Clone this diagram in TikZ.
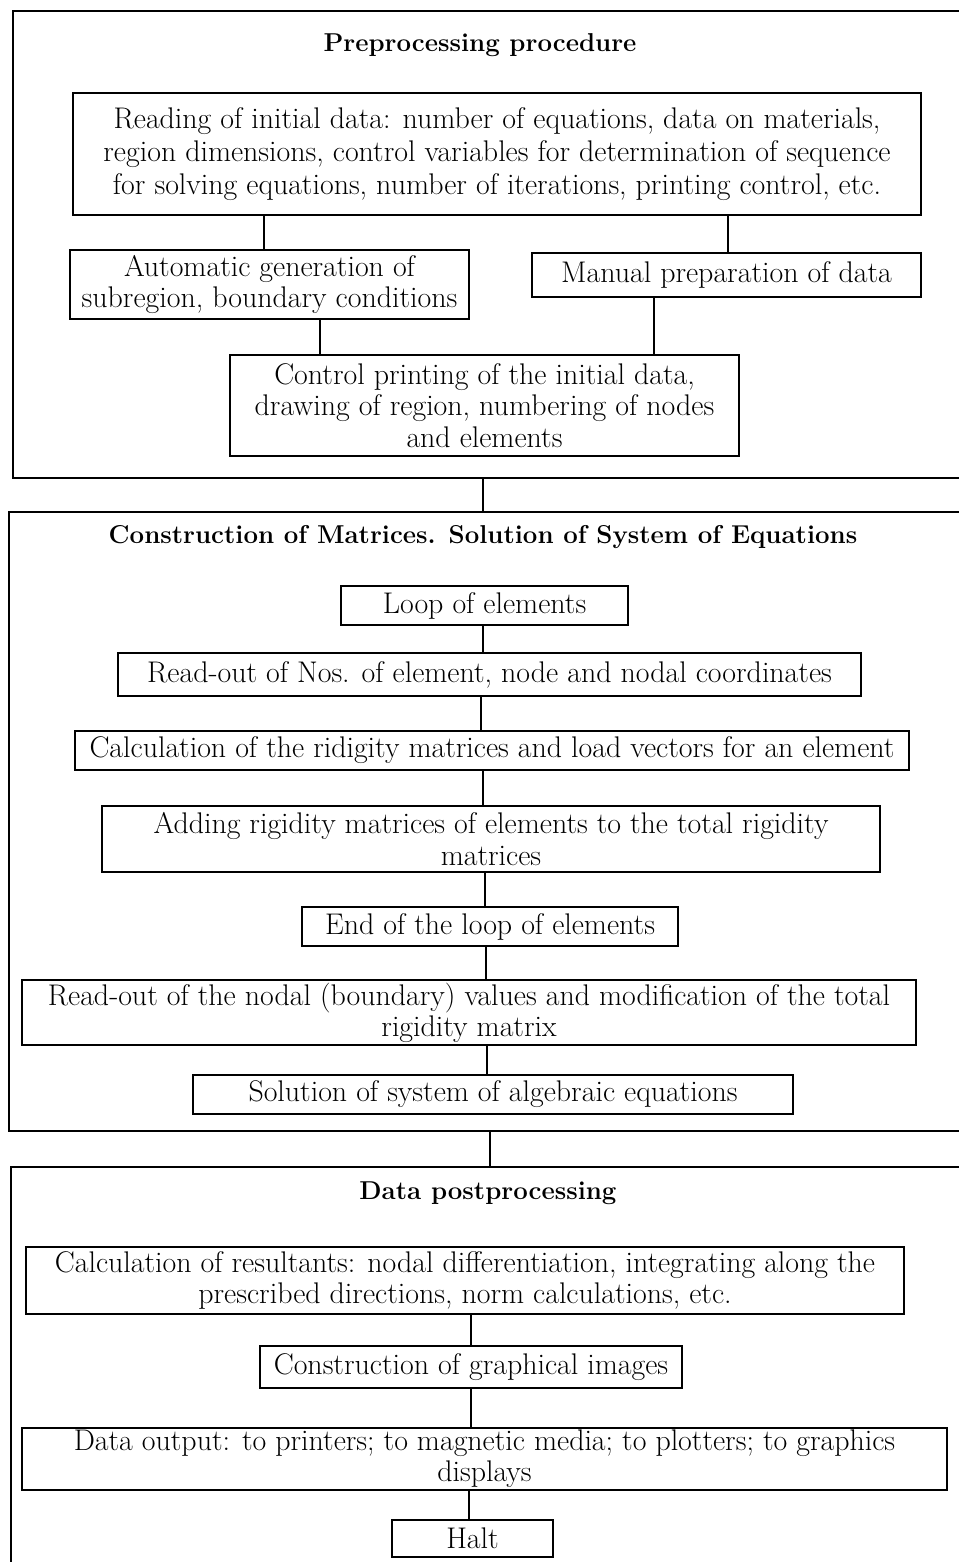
\documentclass[tikz,border=0pt]{standalone}
\usepackage{fontspec}
\usepackage{tikz}
\usetikzlibrary{positioning}
\tikzset{
  frm/.style={rectangle,draw=black,line width=1pt,anchor=north west,inner sep=0pt},
  bx/.style={rectangle,draw=black,line width=.9pt,fill=white,align=center,inner sep=1pt,
    font=\fontsize{17}{17.8}\selectfont},
  ttl/.style={font=\fontsize{14.7}{17}\selectfont\bfseries},
  lnk/.style={draw=black,line width=.6pt},
}
\begin{document}
\begin{tikzpicture}
\useasboundingbox (0,0) rectangle (19.18,-31.24);
\clip (0,0) rectangle (19.18,-31.24);
% the three stages; their right sides (and the foot of the last) run off the page
\node[frm,minimum width=19.5cm,minimum height=9.34cm] (pre) at (0.24,-0.20) {};
\node[frm,minimum width=19.5cm,minimum height=12.38cm] (mat) at (0.16,-10.22) {};
\node[frm,minimum width=19.5cm,minimum height=8.6cm] (post) at (0.20,-23.32) {};
\node[ttl] (t1) at (9.60,-0.90) {Preprocessing procedure};
\node[ttl] (t2) at (9.66,-10.74) {Construction of Matrices. Solution of System of Equations};
\node[ttl] (t3) at (9.76,-23.86) {Data postprocessing};
% preprocessing
\node[bx,font=\fontsize{17}{18.6}\selectfont,minimum width=16.96cm,minimum height=2.44cm] (read) at (9.94,-3.08)
  {Reading of initial data: number of equations, data on materials,\\
   region dimensions, control variables for determination of sequence\\
   for solving equations, number of iterations, printing control, etc.};
\node[bx,minimum width=7.98cm,minimum height=1.38cm] (auto) at (5.39,-5.69)
  {Automatic generation of\\ subregion, boundary conditions};
\node[bx,minimum width=7.78cm,minimum height=0.88cm] (man) at (14.53,-5.50)
  {Manual preparation of data};
\node[bx,minimum width=10.18cm,minimum height=2.02cm] (ctl) at (9.69,-8.11)
  {Control printing of the initial data,\\ drawing of region, numbering of nodes\\ and elements};
% matrices and the solution
\node[bx,minimum width=5.74cm,minimum height=0.78cm] (loop) at (9.69,-12.11)
  {Loop of elements};
\node[bx,minimum width=14.86cm,minimum height=0.86cm] (nos) at (9.79,-13.49)
  {Read-out of Nos. of element, node and nodal coordinates};
\node[bx,minimum width=16.68cm,minimum height=0.78cm] (rig) at (9.84,-15.01)
  {Calculation of the ridigity matrices and load vectors for an element};
\node[bx,minimum width=15.56cm,minimum height=1.32cm] (add) at (9.82,-16.78)
  {Adding rigidity matrices of elements to the total rigidity\\ matrices};
\node[bx,minimum width=7.52cm,minimum height=0.78cm] (lend) at (9.80,-18.53)
  {End of the loop of elements};
\node[bx,minimum width=17.88cm,minimum height=1.30cm] (bnd) at (9.38,-20.25)
  {Read-out of the nodal (boundary) values and modification of the total\\ rigidity matrix};
\node[bx,minimum width=12.00cm,minimum height=0.78cm] (sol) at (9.86,-21.89)
  {Solution of system of algebraic equations};
% postprocessing
\node[bx,minimum width=17.56cm,minimum height=1.34cm] (res) at (9.30,-25.61)
  {Calculation of resultants: nodal differentiation, integrating along the\\
   prescribed directions, norm calculations, etc.};
\node[bx,minimum width=8.44cm,minimum height=0.84cm] (img) at (9.42,-27.34)
  {Construction of graphical images};
\node[bx,minimum width=18.50cm,minimum height=1.24cm] (out) at (9.69,-29.18)
  {Data output: to printers; to magnetic media; to plotters; to graphics\\ displays};
\node[bx,minimum width=3.22cm,minimum height=0.74cm] (halt) at (9.45,-30.77)
  {Halt};
% plain vertical links, each at its own x
\foreach \a/\b/\x in {read/auto/5.28, read/man/14.56, auto/ctl/6.40, man/ctl/13.08,
  pre/mat/9.66, loop/nos/9.66, nos/rig/9.62, rig/add/9.66, add/lend/9.70,
  lend/bnd/9.72, bnd/sol/9.74, mat/post/9.80, res/img/9.42, img/out/9.42,
  out/halt/9.38}{
  \coordinate (k) at (\x,0);
  \draw[lnk] (\a.south -| k) -- (\b.north -| k);
}
\end{tikzpicture}
\end{document}
